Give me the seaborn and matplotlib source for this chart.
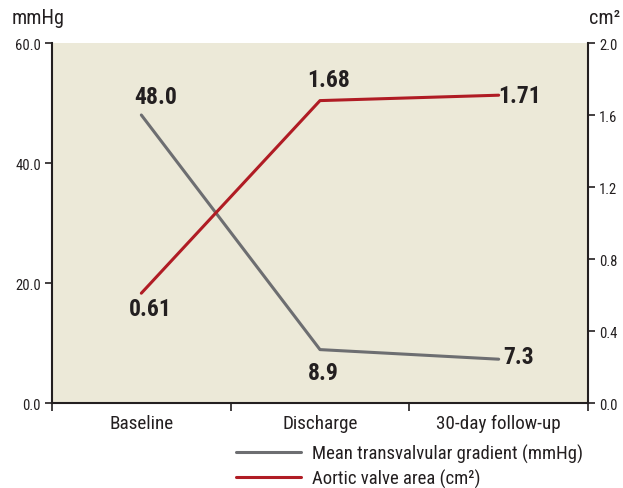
import matplotlib
matplotlib.use("Agg")
import matplotlib.pyplot as plt
from matplotlib import font_manager
import seaborn as sns
import pandas as pd

# Data
timepoints = ["Baseline", "Discharge", "30-day follow-up"]
gradient_mmhg = [48.0, 8.9, 7.3]
valve_area_cm2 = [0.61, 1.68, 1.71]
gradient_labels = ["48.0", "8.9", "7.3"]
area_labels = ["0.61", "1.68", "1.71"]
left_ticks = [0.0, 20.0, 40.0, 60.0]
right_ticks = [0.0, 0.4, 0.8, 1.2, 1.6, 2.0]

sns.set_theme(style="white")

# Prefer a narrow sans face if one is installed
narrow = sorted({(f.name, f.stretch) for f in font_manager.fontManager.ttflist
                 if ("Narrow" in f.name or "Condensed" in f.name or "Narrow" in f.fname
                     or "Condensed" in f.fname)}, key=str)
names = [n for n, _ in narrow]
for cand in ["Roboto Condensed", "Liberation Sans Narrow", "Open Sans Condensed",
             "Noto Sans Condensed", "DejaVu Sans Condensed"]:
    if cand in names:
        family = cand
        break
else:
    family = names[0] if names else "Liberation Sans"
plt.rcParams["font.family"] = [family, "DejaVu Sans"]
stretch = "condensed" if any("Condensed" in f.fname and f.name == family
                             for f in font_manager.fontManager.ttflist) else "normal"
plt.rcParams["font.stretch"] = stretch

GRAY = "#6d6e71"
RED = "#b01c24"
BG = "#ece9d8"
INK = "#231f20"

df = pd.DataFrame({
    "x": range(len(timepoints)),
    "gradient": gradient_mmhg,
    "area": valve_area_cm2,
})

fig = plt.figure(figsize=(6.23, 4.89), dpi=100)
ax = fig.add_axes([52 / 623, 1 - 404 / 489, 536 / 623, 360 / 489])
ax2 = ax.twinx()
ax.set_zorder(ax2.get_zorder() - 1)
ax.set_facecolor(BG)
ax2.patch.set_visible(False)

sns.lineplot(data=df, x="x", y="gradient", ax=ax, color=GRAY, linewidth=2.2,
             label="Mean transvalvular gradient (mmHg)", legend=False)
sns.lineplot(data=df, x="x", y="area", ax=ax2, color=RED, linewidth=2.2,
             label="Aortic valve area (cm²)", legend=False)

ax.set_xlim(-0.5, 2.5)
ax.set_ylim(0, 60)
ax2.set_ylim(0, 2.0)

# Category boundaries as ticks, names centred between them
ax.set_xticks([-0.5, 0.5, 1.5, 2.5])
ax.set_xticklabels([])
ax.set_xticks(range(len(timepoints)), minor=True)
ax.set_xticklabels(timepoints, minor=True, fontsize=13.8, color=INK)
ax.tick_params(axis="x", which="major", direction="out", length=6, width=1.2, color=INK, bottom=True)
ax.tick_params(axis="x", which="minor", length=0, pad=8)

ax.set_yticks(left_ticks)
ax.set_yticklabels([f"{v:.1f}" for v in left_ticks], fontsize=10.5, color=INK)
ax.tick_params(axis="y", direction="out", length=5, width=1.2, color=INK, left=True, pad=3)
ax2.set_yticks(right_ticks)
ax2.set_yticklabels([f"{v:.1f}" for v in right_ticks], fontsize=10.5, color=INK)
ax2.tick_params(axis="y", direction="out", length=5, width=1.2, color=INK, right=True, pad=3)

for a in (ax, ax2):
    a.set_xlabel("")
    a.set_ylabel("")
    a.spines["top"].set_visible(False)
    a.grid(False)
ax.spines["right"].set_visible(False)
ax2.spines["left"].set_visible(False)
ax2.spines["bottom"].set_visible(False)
for s in ("left", "bottom"):
    ax.spines[s].set_color(INK)
    ax.spines[s].set_linewidth(1.5)
ax2.spines["right"].set_color(INK)
ax2.spines["right"].set_linewidth(1.5)

# Value annotations (offsets in pixels from each point, label centred)
bold = dict(fontsize=17, fontweight="bold", color=INK, ha="center", va="center")
grad_offsets = [(14, 19), (3, -23), (20, 3)]
for i, (v, t) in enumerate(zip(gradient_mmhg, gradient_labels)):
    ax.annotate(t, (i, v), xytext=grad_offsets[i], textcoords="offset pixels", **bold)
area_offsets = [(9, -15), (9, 21), (21, 0)]
for i, (v, t) in enumerate(zip(valve_area_cm2, area_labels)):
    ax2.annotate(t, (i, v), xytext=area_offsets[i], textcoords="offset pixels", **bold)

# Axis units
fig.text(12 / 623, 1 - 19 / 489, "mmHg", fontsize=14.5, color=INK, ha="left", va="center")
fig.text(589 / 623, 1 - 19 / 489, "cm²", fontsize=14.5, color=INK, ha="left", va="center")

# Legend
handles = ax.get_lines()[:1] + ax2.get_lines()[:1]
labels = ["Mean transvalvular gradient (mmHg)", "Aortic valve area (cm²)"]
fig.legend(handles, labels, loc="upper left", bbox_to_anchor=(228 / 623, 1 - 437 / 489),
           frameon=False, fontsize=13.5, handlelength=3.5, handletextpad=0.6,
           labelspacing=0.32, borderaxespad=0, labelcolor=INK)

fig.savefig("out.png", dpi=100)
